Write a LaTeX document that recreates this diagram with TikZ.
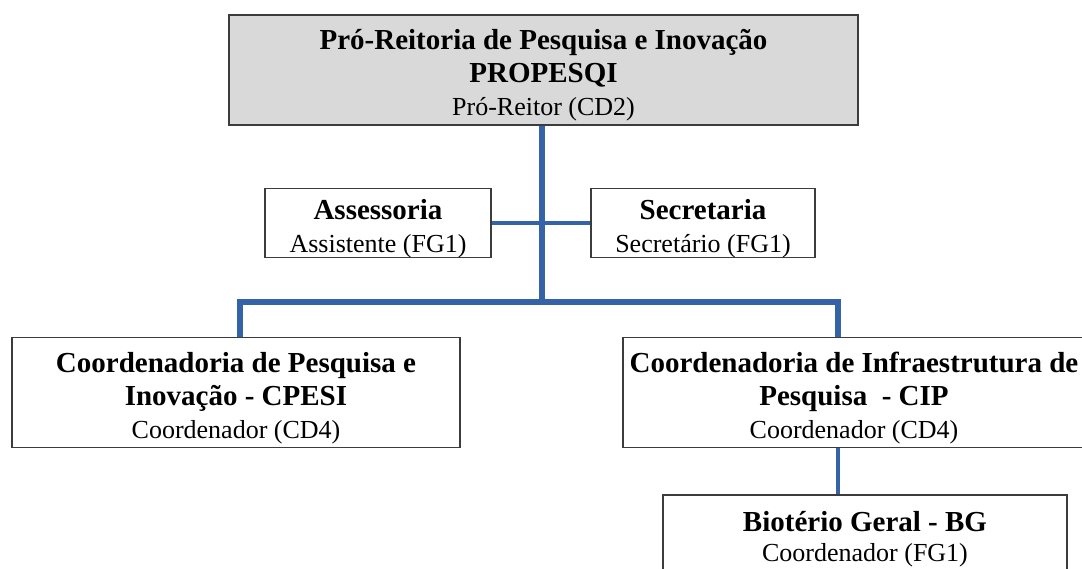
\documentclass[tikz,border=0pt]{standalone}
\usepackage{fontspec}
\setmainfont{Liberation Serif}
\definecolor{linkblue}{RGB}{52,99,168}
\definecolor{boxgray}{RGB}{217,217,217}
\definecolor{edgegray}{RGB}{60,60,60}
\begin{document}
\begin{tikzpicture}[x=1pt,y=-1pt,
  box/.style={draw=edgegray,line width=1.3pt,fill=white,rectangle,align=center,
    inner sep=0pt,font=\fontsize{29}{33}\selectfont\bfseries},
  thick link/.style={draw=linkblue,line width=6pt},
  thin link/.style={draw=linkblue,line width=4pt}]
\useasboundingbox (0,0) rectangle (1082,568);
\clip (0,0) rectangle (1082,568);
\newcommand{\rl}[1]{{\fontsize{26}{33}\selectfont\mdseries #1}}
\newcommand{\fst}{\rule{0pt}{31pt}}
\node[box,fill=boxgray,minimum width=629,minimum height=110] (top) at (543.5,70)
  {\fst Pró-Reitoria de Pesquisa e Inovação\\PROPESQI\\\rl{Pró-Reitor (CD2)}};
\node[box,minimum width=226,minimum height=63] (ass) at (378,223)
  {\fst Assessoria\\\rl{Assistente (FG1)}};
\node[box,minimum width=224,minimum height=63] (sec) at (703,223)
  {\fst Secretaria\\\rl{Secretário (FG1)}};
\node[box,minimum width=448,minimum height=110] (cpesi) at (236,392.5)
  {\fst Coordenadoria de Pesquisa e\\Inovação - CPESI\\\rl{Coordenador (CD4)}};
\node[box,minimum width=462,minimum height=110] (cip) at (854,392.5)
  {\fst Coordenadoria de Infraestrutura de\\Pesquisa~ - CIP\\\rl{Coordenador (CD4)}};
\node[box,minimum width=404,minimum height=78] (bio) at (865,534)
  {\fst Biotério Geral - BG\\[-3pt]\rl{Coordenador (FG1)}};
\coordinate (bus) at (541.5,302);
\coordinate (busl) at (240,302);
\coordinate (busr) at (838,302);
\draw[thin link] (ass.east) -- (sec.west);
\draw[thick link] (top.south -| bus) -- (bus);
\draw[thick link] (cpesi.north -| busl) -- (busl) -- (busr) -- (cip.north -| busr);
\draw[thin link] (cip.south -| busr) -- (bio.north -| busr);
\end{tikzpicture}
\end{document}
